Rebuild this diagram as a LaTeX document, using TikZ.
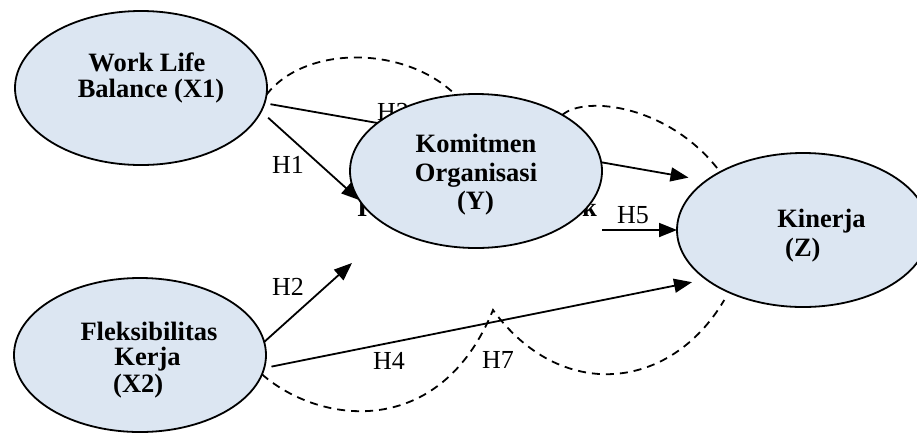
\documentclass[tikz,border=0pt]{standalone}
\usepackage{fontspec}
\setmainfont{Liberation Serif}
\usetikzlibrary{arrows.meta,backgrounds,shapes.geometric}
\definecolor{boxblue}{HTML}{DCE6F2}
\begin{document}
\begin{tikzpicture}[x=1pt,y=-1pt,
  var/.style={ellipse, draw=black, line width=1.8pt, fill=boxblue, minimum width=252pt, minimum height=154pt, inner sep=0pt, outer sep=0pt},
  vtxt/.style={font=\bfseries\fontsize{26.5}{26}\selectfont, inner sep=0pt, anchor=base},
  htxt/.style={font=\fontsize{26}{26}\selectfont, inner sep=0pt, anchor=base west},
  arr/.style={line width=1.8pt, -{Triangle[length=18pt,width=14pt]}},
  dsh/.style={line width=1.8pt, dash pattern=on 8pt off 6pt}]
\useasboundingbox (0,0) rectangle (917,432);
% variables
\node[var] (x1) at (141,88) {};
\node[var] (y) at (476,171) {};
\node[var] (z) at (803,230) {};
\node[var] (x2) at (140,355) {};
% texts inside
\node[vtxt] (x1a) at (147,71) {Work Life};
\node[vtxt] (x1b) at (151,97) {Balance (X1)};
\node[vtxt] (ya) at (476,152) {Komitmen};
\node[vtxt] (yb) at (476,181.5) {Organisasi};
\node[vtxt] (yc) at (475.5,209) {(Y)};
\node[vtxt] (za) at (821.5,227) {Kinerja};
\node[vtxt, anchor=base west] (zb) at (785,256) {(Z)};
\node[vtxt] (x2a) at (149,340) {Fleksibilitas};
\node[vtxt] (x2b) at (147.5,365) {Kerja};
\node[vtxt, anchor=base west] (x2c) at (113,392) {(X2)};
% free ends
\coordinate (h2e) at (352,263);
\coordinate (h5s) at (602,230);
\coordinate (cusp) at (493,310);
% labels
\node[htxt] (lh1) at (272,173) {H1};
\node[htxt] (lh2) at (272,295) {H2};
\node[htxt] (lh4) at (373,369) {H4};
\node[htxt] (lh7) at (482,368) {H7};
\node[htxt] (lh5) at (617,223) {H5};
\begin{pgfonlayer}{background}
\fill[white] (0,0) rectangle (917,432);
\node[htxt] (lh3) at (377,120) {H3};
\node[vtxt, anchor=base west] (hi) at (357,216) {I};
\node[vtxt, anchor=base east] (hk) at (597,216) {k};
\draw[arr, shorten <=9.5pt] (x1.-11) -- (y.194);
\draw[arr, shorten <=6pt, shorten >=18pt] (x1.-7.4) -- (z.153.3);
\draw[arr] (x2.6) -- (h2e);
\draw[arr, shorten <=7.4pt, shorten >=14.5pt] (x2.-6.7) -- (z.207.6);
\draw[arr] (h5s) -- (z.west);
\draw[dsh] (x1.-3) .. controls (305,45) and (405,45) .. (y.105);
\draw[dsh] (y.33) .. controls (585,95) and (670,105) .. (z.145);
\draw[dsh, shorten >=9pt] (x2.-9) .. controls (320,425) and (440,440) .. (cusp) .. controls (560,402) and (670,392) .. (z.220);
\end{pgfonlayer}
\end{tikzpicture}
\end{document}
